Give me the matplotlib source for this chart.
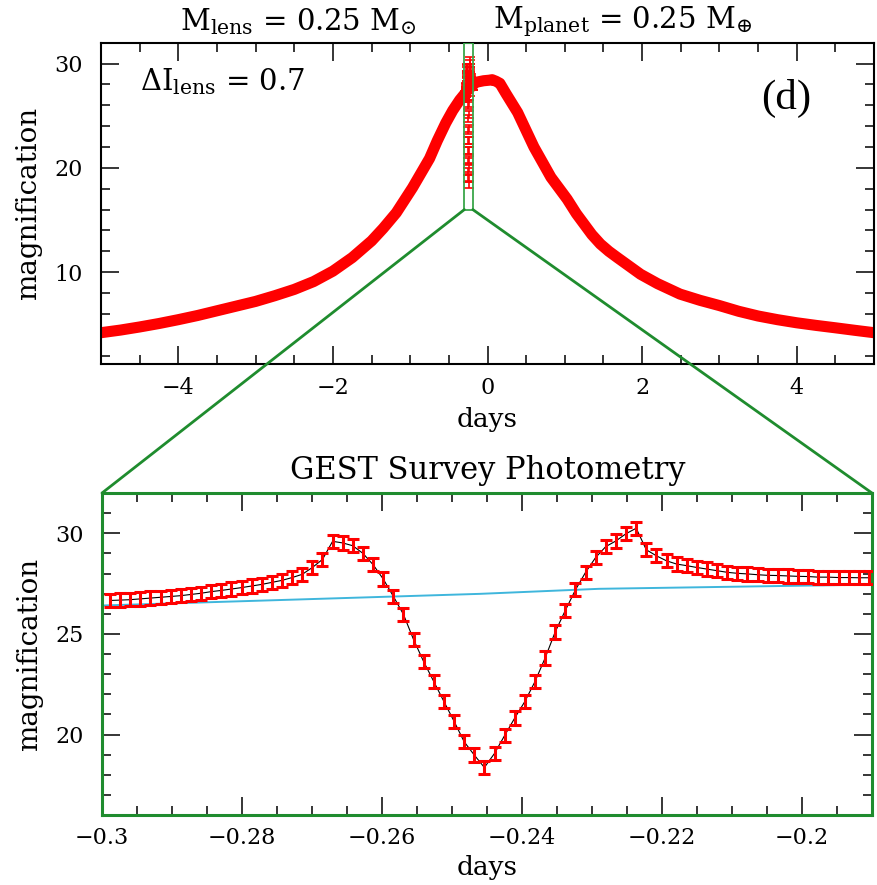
import numpy as np
import matplotlib.pyplot as plt
from matplotlib.patches import Rectangle, ConnectionPatch
from matplotlib.ticker import MultipleLocator, FuncFormatter

plt.rcParams['font.family'] = 'DejaVu Serif'
plt.rcParams['mathtext.fontset'] = 'dejavuserif'

# light curve, whole event (days, magnification)
t_top = [-5.0, -4.75, -4.5, -4.25, -4.0, -3.75, -3.5, -3.25, -3.0, -2.75, -2.5,
         -2.25, -2.0, -1.75, -1.5, -1.35, -1.18, -0.97, -0.86, -0.75, -0.65,
         -0.54, -0.45, -0.36, -0.25, -0.15, -0.05, 0.02, 0.06, 0.11, 0.16,
         0.24, 0.39, 0.6, 0.82, 1.03, 1.15, 1.25, 1.35, 1.46, 1.57, 1.68, 1.83,
         1.98, 2.2, 2.49, 2.75, 3.0, 3.25, 3.5, 3.75, 4.0, 4.25, 4.5, 4.75, 5.0]
mag_top = [4.2, 4.45, 4.75, 5.08, 5.45, 5.85, 6.3, 6.75, 7.2, 7.75, 8.35,
           9.1, 10.1, 11.4, 13.0, 14.2, 15.7, 18.1, 19.5, 20.9, 22.6,
           24.3, 25.5, 26.5, 27.5, 28.2, 28.35, 28.4, 28.45, 28.3, 28.1,
           27.1, 25.3, 22.0, 19.1, 17.0, 15.6, 14.6, 13.6, 12.7, 12.0, 11.4, 10.6,
           9.8, 8.9, 7.9, 7.3, 6.8, 6.25, 5.8, 5.45, 5.15, 4.9, 4.67, 4.43, 4.2]

# GEST survey points across the planetary anomaly
t_first = -0.29886
cadence = 0.0014456
mag_obs = [26.66, 26.68, 26.70, 26.74, 26.78, 26.82, 26.86, 26.90, 26.96, 27.02,
           27.10, 27.16, 27.23, 27.30, 27.38, 27.46, 27.56, 27.66, 27.80, 27.96,
           28.30, 28.70, 29.60, 29.52, 29.38, 29.00, 28.44, 27.73, 26.87, 25.97,
           24.72, 23.62, 22.63, 21.64, 20.66, 19.64, 18.98, 18.36, 19.06, 19.95,
           20.82, 21.64, 22.63, 23.80, 25.10, 26.17, 27.19, 28.06, 28.80, 29.34,
           29.62, 29.98, 30.25, 29.18, 28.88, 28.63, 28.47, 28.39, 28.30, 28.22,
           28.14, 28.06, 28.01, 27.98, 27.94, 27.91, 27.90, 27.88, 27.86, 27.85,
           27.82, 27.82, 27.80, 27.80, 27.79, 27.79]
err_obs = 0.33
t_obs = t_first + cadence * np.arange(len(mag_obs))

# single lens curve without planet
t_single = [-0.3, -0.272, -0.246, -0.229, -0.19]
mag_single = [26.41, 26.71, 26.99, 27.24, 27.45]

red = '#ff0000'
green = '#1f8c2e'
cyan = '#3fb6dc'

fig = plt.figure(figsize=(8.77, 8.85), dpi=100)
ax1 = fig.add_axes([0.1152, 0.5887, 0.8814, 0.3631])
ax2 = fig.add_axes([0.1163, 0.0791, 0.8780, 0.3638])

fmt = FuncFormatter(lambda v, p: ('%g' % v).replace('-', '\u2212'))

def style(ax):
    ax.tick_params(which='both', direction='in', top=True, right=True,
                   labelsize=16, width=1.1)
    ax.tick_params(which='major', length=13)
    ax.tick_params(which='minor', length=6.5)
    ax.tick_params(axis='x', pad=9)
    ax.tick_params(axis='y', pad=13)
    ax.xaxis.set_major_formatter(fmt)

# top panel
ax1.plot(t_top, mag_top, color=red, lw=8, solid_capstyle='butt',
         solid_joinstyle='round')
ax1.errorbar(t_obs, mag_obs, yerr=err_obs, fmt='none', ecolor=red,
             elinewidth=1.2, capsize=3.5, capthick=1.2)
ax1.add_patch(Rectangle((-0.3, 16), 0.11, 16, fill=False, ec='#3aa64a', lw=1.3, zorder=5))
ax1.set_xlim(-5, 5)
ax1.set_ylim(1.2, 32)
ax1.xaxis.set_major_locator(MultipleLocator(2))
ax1.xaxis.set_minor_locator(MultipleLocator(0.5))
ax1.yaxis.set_major_locator(MultipleLocator(10))
ax1.yaxis.set_minor_locator(MultipleLocator(2))
style(ax1)
for s in ax1.spines.values():
    s.set_linewidth(1.5)
ax1.set_xlabel('days', fontsize=19)
ax1.set_ylabel('magnification', fontsize=20)
ax1.xaxis.set_label_coords(0.5, -0.135)
ax1.yaxis.set_label_coords(-0.076, 0.5)
ax1.text(0.05, 0.88, r'$\Delta$I$_{\rm lens}$ = 0.7', transform=ax1.transAxes,
         fontsize=21, va='center')
ax1.text(0.886, 0.825, '(d)', transform=ax1.transAxes, fontsize=31,
         family='Liberation Serif', ha='center', va='center')

# bottom panel
ax2.plot(t_single, mag_single, color=cyan, lw=1.4, zorder=1)
ax2.plot(t_obs, mag_obs, color='black', lw=0.8, zorder=2)
ax2.errorbar(t_obs, mag_obs, yerr=err_obs, fmt='none', ecolor=red,
             elinewidth=2.2, capsize=4.3, capthick=2.2, zorder=3)
ax2.set_xlim(-0.3, -0.19)
ax2.set_ylim(16, 32)
ax2.xaxis.set_major_locator(MultipleLocator(0.02))
ax2.xaxis.set_minor_locator(MultipleLocator(0.005))
ax2.yaxis.set_major_locator(MultipleLocator(5))
ax2.yaxis.set_minor_locator(MultipleLocator(1))
style(ax2)
for s in ax2.spines.values():
    s.set_color(green)
    s.set_linewidth(2.2)
ax2.set_xlabel('days', fontsize=19)
ax2.set_ylabel('magnification', fontsize=20)
ax2.xaxis.set_label_coords(0.5, -0.125)
ax2.yaxis.set_label_coords(-0.077, 0.5)

# zoom lines from the box to the lower panel
for xv in (-0.3, -0.19):
    con = ConnectionPatch(xyA=(xv, 16), coordsA=ax1.transData,
                          xyB=(xv, 32), coordsB=ax2.transData,
                          color=green, lw=2.0)
    fig.add_artist(con)

fig.text(298 / 877, 1 - 22 / 885, r'M$_{\rm lens}$ = 0.25 M$_{\odot}$',
         fontsize=21, ha='center', va='center')
fig.text(623 / 877, 1 - 22 / 885, r'M$_{\rm planet}$ = 0.25 M$_{\oplus}$',
         fontsize=21, ha='center', va='center')
fig.text(488 / 877, 1 - 470 / 885, 'GEST Survey Photometry',
         fontsize=22, ha='center', va='center')

fig.savefig('out.png', dpi=100)
